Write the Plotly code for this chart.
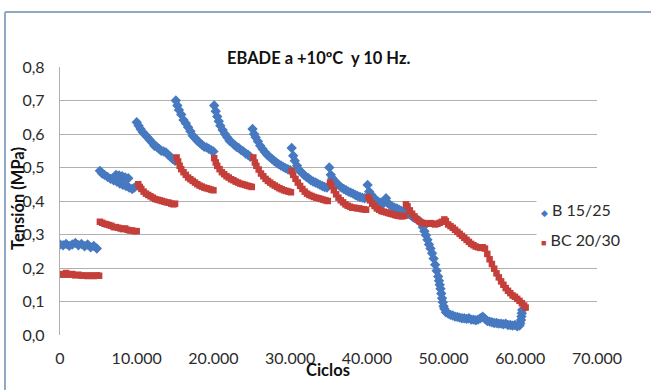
import plotly.graph_objects as go

# ---------------- data ----------------
title_text = "EBADE a +10ºC  y 10 Hz."
x_title = "Ciclos"
y_title = "Tensión (MPa)"
series_names = ["B 15/25", "BC 20/30"]

x_tickvals = [0, 10000, 20000, 30000, 40000, 50000, 60000, 70000]
x_ticktext = ["0", "10.000", "20.000", "30.000", "40.000", "50.000", "60.000", "70.000"]
y_tickvals = [0.0, 0.1, 0.2, 0.3, 0.4, 0.5, 0.6, 0.7, 0.8]
y_ticktext = ["0,0", "0,1", "0,2", "0,3", "0,4", "0,5", "0,6", "0,7", "0,8"]

b_x = [
    0, 400, 800, 1200, 1600, 2000, 2400, 2800, 3200, 3600, 4000, 4400, 4800,
    5200, 5500, 5800, 6200, 6600, 7000, 7400, 7800, 8200, 8600, 9000, 9400, 9700,
    7300, 7700, 8100, 8500, 8900,
    10000, 10250, 10500, 10800, 11100, 11400, 11700, 12000, 12300, 12600, 12900, 13200, 13500, 13800, 14100, 14400, 14700, 15000,
    15100, 15300, 15500, 15800, 16100, 16400, 16700, 17000, 17300, 17600, 17900, 18200, 18500, 18800, 19100, 19400, 19700, 20000,
    20100, 20300, 20500, 20700, 20900, 21200, 21500, 21800, 22100, 22400, 22700, 23000, 23300, 23600, 23900, 24200, 24500, 24800,
    25100, 25300, 25500, 25800, 26100, 26400, 26700, 27000, 27300, 27600, 27900, 28200, 28500, 28800, 29100, 29400, 29700, 30000,
    30200, 30400, 30600, 30900, 31200, 31500, 31800, 32100, 32400, 32700, 33000, 33300, 33600, 33900, 34200, 34500, 34800,
    35100, 35300, 35500, 35800, 36100, 36400, 36700, 37000, 37300, 37600, 37900, 38200, 38500, 38800, 39100, 39400, 39700,
    40100, 40300, 40600, 40900, 41200, 41500, 41800, 42100, 42500, 42700, 43000, 43300, 43600, 43900, 44200, 44500, 44800,
    45100, 45400, 45700, 46000, 46300, 46600, 46900, 47100, 47300, 47500, 47700, 47900, 48100, 48300, 48500, 48700, 48900,
    49100, 49300, 49400, 49500, 49600, 49700, 49800, 49900, 50000, 50100,
    50300, 50600, 50900, 51200, 51500, 51800, 52100, 52400, 52700, 53000, 53300, 53600, 53900, 54200, 54500, 54800, 55100,
    55400, 55700, 56000, 56300, 56600, 56900, 57200, 57500, 57800, 58100, 58400, 58700, 59000, 59300, 59600, 59900,
    60000, 60100, 60150, 60200, 60250,
]
b_y = [
    0.270, 0.268, 0.272, 0.266, 0.270, 0.275, 0.268, 0.272, 0.265, 0.270, 0.262, 0.266, 0.258,
    0.490, 0.482, 0.478, 0.472, 0.466, 0.462, 0.458, 0.452, 0.448, 0.445, 0.440, 0.436, 0.440,
    0.478, 0.476, 0.474, 0.470, 0.468,
    0.635, 0.625, 0.615, 0.605, 0.598, 0.590, 0.582, 0.575, 0.565, 0.562, 0.556, 0.550, 0.548, 0.545, 0.538, 0.532, 0.525, 0.520,
    0.700, 0.685, 0.672, 0.658, 0.642, 0.632, 0.620, 0.608, 0.595, 0.588, 0.580, 0.574, 0.568, 0.562, 0.560, 0.556, 0.552, 0.548,
    0.685, 0.668, 0.652, 0.638, 0.625, 0.612, 0.600, 0.590, 0.580, 0.575, 0.568, 0.562, 0.558, 0.552, 0.548, 0.542, 0.538, 0.532,
    0.615, 0.600, 0.590, 0.578, 0.565, 0.555, 0.546, 0.538, 0.532, 0.526, 0.520, 0.515, 0.510, 0.506, 0.502, 0.498, 0.495, 0.492,
    0.558, 0.535, 0.520, 0.505, 0.492, 0.485, 0.478, 0.472, 0.468, 0.462, 0.458, 0.455, 0.452, 0.448, 0.445, 0.442, 0.440,
    0.500, 0.478, 0.468, 0.460, 0.452, 0.446, 0.440, 0.436, 0.432, 0.428, 0.425, 0.422, 0.418, 0.415, 0.412, 0.410, 0.408,
    0.448, 0.428, 0.418, 0.410, 0.402, 0.398, 0.395, 0.392, 0.408, 0.395, 0.388, 0.384, 0.380, 0.378, 0.374, 0.370, 0.368,
    0.368, 0.362, 0.358, 0.352, 0.348, 0.344, 0.340, 0.334, 0.322, 0.310, 0.298, 0.284, 0.270, 0.258, 0.244, 0.228, 0.210,
    0.192, 0.175, 0.162, 0.150, 0.138, 0.124, 0.110, 0.098, 0.086, 0.078,
    0.068, 0.064, 0.060, 0.058, 0.055, 0.054, 0.052, 0.050, 0.050, 0.048, 0.050, 0.046, 0.046, 0.044, 0.046, 0.050, 0.055,
    0.048, 0.042, 0.040, 0.038, 0.036, 0.036, 0.034, 0.034, 0.032, 0.034, 0.030, 0.030, 0.028, 0.030, 0.026, 0.028,
    0.035, 0.045, 0.055, 0.065, 0.075,
]

bc_x = [
    0, 400, 800, 1200, 1600, 2000, 2400, 2800, 3200, 3600, 4000, 4400, 4800, 5100,
    5200, 5500, 5800, 6100, 6400, 6700, 7000, 7300, 7600, 7900, 8200, 8500, 8800, 9100, 9400, 9700, 10000,
    10200, 10400, 10600, 10900, 11200, 11500, 11800, 12100, 12400, 12700, 13000, 13300, 13600, 13900, 14200, 14500, 14800, 15000,
    15200, 15400, 15600, 15800, 16100, 16400, 16700, 17000, 17300, 17600, 17900, 18200, 18500, 18800, 19100, 19400, 19700, 20000,
    20100, 20300, 20500, 20800, 21100, 21400, 21700, 22000, 22300, 22600, 22900, 23200, 23500, 23800, 24100, 24400, 24700, 25000,
    25200, 25400, 25600, 25900, 26200, 26500, 26800, 27100, 27400, 27700, 28000, 28300, 28600, 28900, 29200, 29500, 29800, 30100,
    30200, 30400, 30700, 31000, 31300, 31600, 31900, 32200, 32500, 32800, 33100, 33400, 33700, 34000, 34300, 34600, 34900,
    35200, 35400, 35700, 36000, 36300, 36600, 36900, 37200, 37500, 37800, 38100, 38400, 38700, 39000, 39300, 39600, 39900,
    40200, 40400, 40700, 41000, 41300, 41600, 41900, 42200, 42500, 42800, 43100, 43400, 43700, 44000, 44300, 44600, 44900,
    45100, 45300, 45600, 45900, 46200, 46500, 46800, 47100, 47400, 47700, 48000, 48300, 48600, 48900, 49200, 49500, 49800, 50100,
    50300, 50600, 50900, 51200, 51500, 51800, 52100, 52400, 52700, 53000, 53300, 53600, 53900, 54200, 54500, 54800, 55100, 55400,
    55700, 56000, 56300, 56600, 56900, 57200, 57500, 57800, 58100, 58400, 58700, 59000, 59300, 59600, 59900, 60200, 60500, 60700,
]
bc_y = [
    0.182, 0.180, 0.185, 0.180, 0.182, 0.178, 0.180, 0.177, 0.178, 0.176, 0.178, 0.176, 0.178, 0.177,
    0.338, 0.335, 0.332, 0.330, 0.328, 0.326, 0.322, 0.322, 0.320, 0.318, 0.316, 0.318, 0.314, 0.312, 0.312, 0.310, 0.310,
    0.450, 0.442, 0.436, 0.428, 0.422, 0.418, 0.414, 0.410, 0.406, 0.404, 0.402, 0.400, 0.398, 0.396, 0.395, 0.392, 0.390, 0.392,
    0.530, 0.518, 0.505, 0.495, 0.486, 0.478, 0.470, 0.465, 0.460, 0.455, 0.450, 0.446, 0.443, 0.440, 0.438, 0.436, 0.434, 0.432,
    0.528, 0.515, 0.505, 0.495, 0.486, 0.480, 0.474, 0.470, 0.465, 0.462, 0.458, 0.455, 0.452, 0.450, 0.448, 0.446, 0.444, 0.442,
    0.530, 0.515, 0.505, 0.494, 0.482, 0.474, 0.466, 0.460, 0.455, 0.450, 0.446, 0.442, 0.438, 0.435, 0.432, 0.430, 0.428, 0.426,
    0.490, 0.478, 0.466, 0.455, 0.445, 0.436, 0.428, 0.422, 0.418, 0.415, 0.412, 0.410, 0.408, 0.406, 0.404, 0.402, 0.400,
    0.455, 0.445, 0.432, 0.420, 0.410, 0.402, 0.396, 0.390, 0.386, 0.383, 0.380, 0.380, 0.378, 0.378, 0.376, 0.375, 0.374,
    0.412, 0.402, 0.392, 0.385, 0.378, 0.374, 0.370, 0.368, 0.366, 0.364, 0.362, 0.360, 0.358, 0.356, 0.355, 0.354, 0.356,
    0.390, 0.384, 0.372, 0.362, 0.354, 0.346, 0.340, 0.336, 0.334, 0.332, 0.332, 0.334, 0.332, 0.330, 0.332, 0.335, 0.338, 0.345,
    0.340, 0.330, 0.325, 0.320, 0.314, 0.308, 0.302, 0.296, 0.290, 0.284, 0.278, 0.272, 0.268, 0.264, 0.262, 0.260, 0.262, 0.258,
    0.242, 0.226, 0.212, 0.198, 0.184, 0.172, 0.160, 0.150, 0.140, 0.132, 0.125, 0.118, 0.114, 0.108, 0.102, 0.095, 0.088, 0.082,
]

# ---------------- styling ----------------
BLUE = "#4679c0"
RED = "#c53f3a"
GRID = "#b0b0b0"
TXT = "#2b2b2b"
FONT = "Lato"

W, H = 651, 390
L, R, T, B = 60, 54, 67, 55
pw, ph = W - L - R, H - T - B


def px(xp):
    return (xp - L) / pw


def py(yp):
    return (H - B - yp) / ph


fig = go.Figure()
fig.add_trace(go.Scatter(
    x=b_x, y=b_y, mode="markers", name=series_names[0], showlegend=False,
    marker=dict(color=BLUE, size=8, symbol="diamond", line=dict(width=0)),
))
fig.add_trace(go.Scatter(
    x=bc_x, y=bc_y, mode="markers", name=series_names[1], showlegend=False,
    marker=dict(color=RED, size=6.5, symbol="square", line=dict(width=0)),
))

fig.update_layout(
    width=W, height=H,
    margin=dict(l=L, r=R, t=T, b=B),
    paper_bgcolor="white", plot_bgcolor="white",
    font=dict(family=FONT, size=16, color=TXT),
    xaxis=dict(
        range=[0, 70000], tickvals=x_tickvals, ticktext=x_ticktext,
        showgrid=False, zeroline=False, showline=False,
        ticks="outside", ticklen=9, tickcolor="rgba(0,0,0,0)",
        tickfont=dict(family=FONT, size=16, color=TXT),
    ),
    yaxis=dict(
        range=[0, 0.8], tickvals=y_tickvals, ticktext=y_ticktext,
        showgrid=True, gridcolor=GRID, gridwidth=1.3,
        zeroline=False, showline=True, linecolor=GRID, linewidth=1.3,
        ticks="outside", ticklen=11, tickcolor="rgba(0,0,0,0)",
        tickfont=dict(family=FONT, size=16, color=TXT),
    ),
    shapes=[
        dict(type="line", xref="paper", yref="paper", x0=px(5), x1=px(660), y0=py(12), y1=py(12),
             line=dict(color="#8ea8c6", width=2)),
        dict(type="line", xref="paper", yref="paper", x0=px(5), x1=px(5), y0=py(12), y1=py(400),
             line=dict(color="#8ea8c6", width=2)),
    ],
    annotations=[
        dict(text="<b>" + title_text + "</b>", xref="paper", yref="paper", x=px(318), y=py(58),
             xanchor="center", yanchor="middle", showarrow=False, font=dict(family=FONT, size=16.5, color="#111")),
        dict(text="<b>" + y_title + "</b>", xref="paper", yref="paper", x=px(18), y=py(199),
             xanchor="center", yanchor="middle", textangle=-90, showarrow=False,
             font=dict(family=FONT, size=16.5, color="#111")),
        dict(text="<b>" + x_title + "</b>", xref="paper", yref="paper", x=px(328), y=py(370),
             xanchor="center", yanchor="middle", showarrow=False, font=dict(family=FONT, size=16.5, color="#111")),
        dict(text="<span style='color:%s;font-size:9px'>◆</span> %s" % (BLUE, series_names[0]),
             xref="paper", yref="paper", x=px(536), y=py(210), xanchor="left", yanchor="middle",
             showarrow=False, bgcolor="white", borderpad=4, width=90, align="left",
             font=dict(family=FONT, size=16, color=TXT)),
        dict(text="<span style='color:%s;font-size:9px'>■</span> %s" % (RED, series_names[1]),
             xref="paper", yref="paper", x=px(536), y=py(240), xanchor="left", yanchor="middle",
             showarrow=False, bgcolor="white", borderpad=4, width=90, align="left",
             font=dict(family=FONT, size=16, color=TXT)),
    ],
)

fig.write_html("out.html")
